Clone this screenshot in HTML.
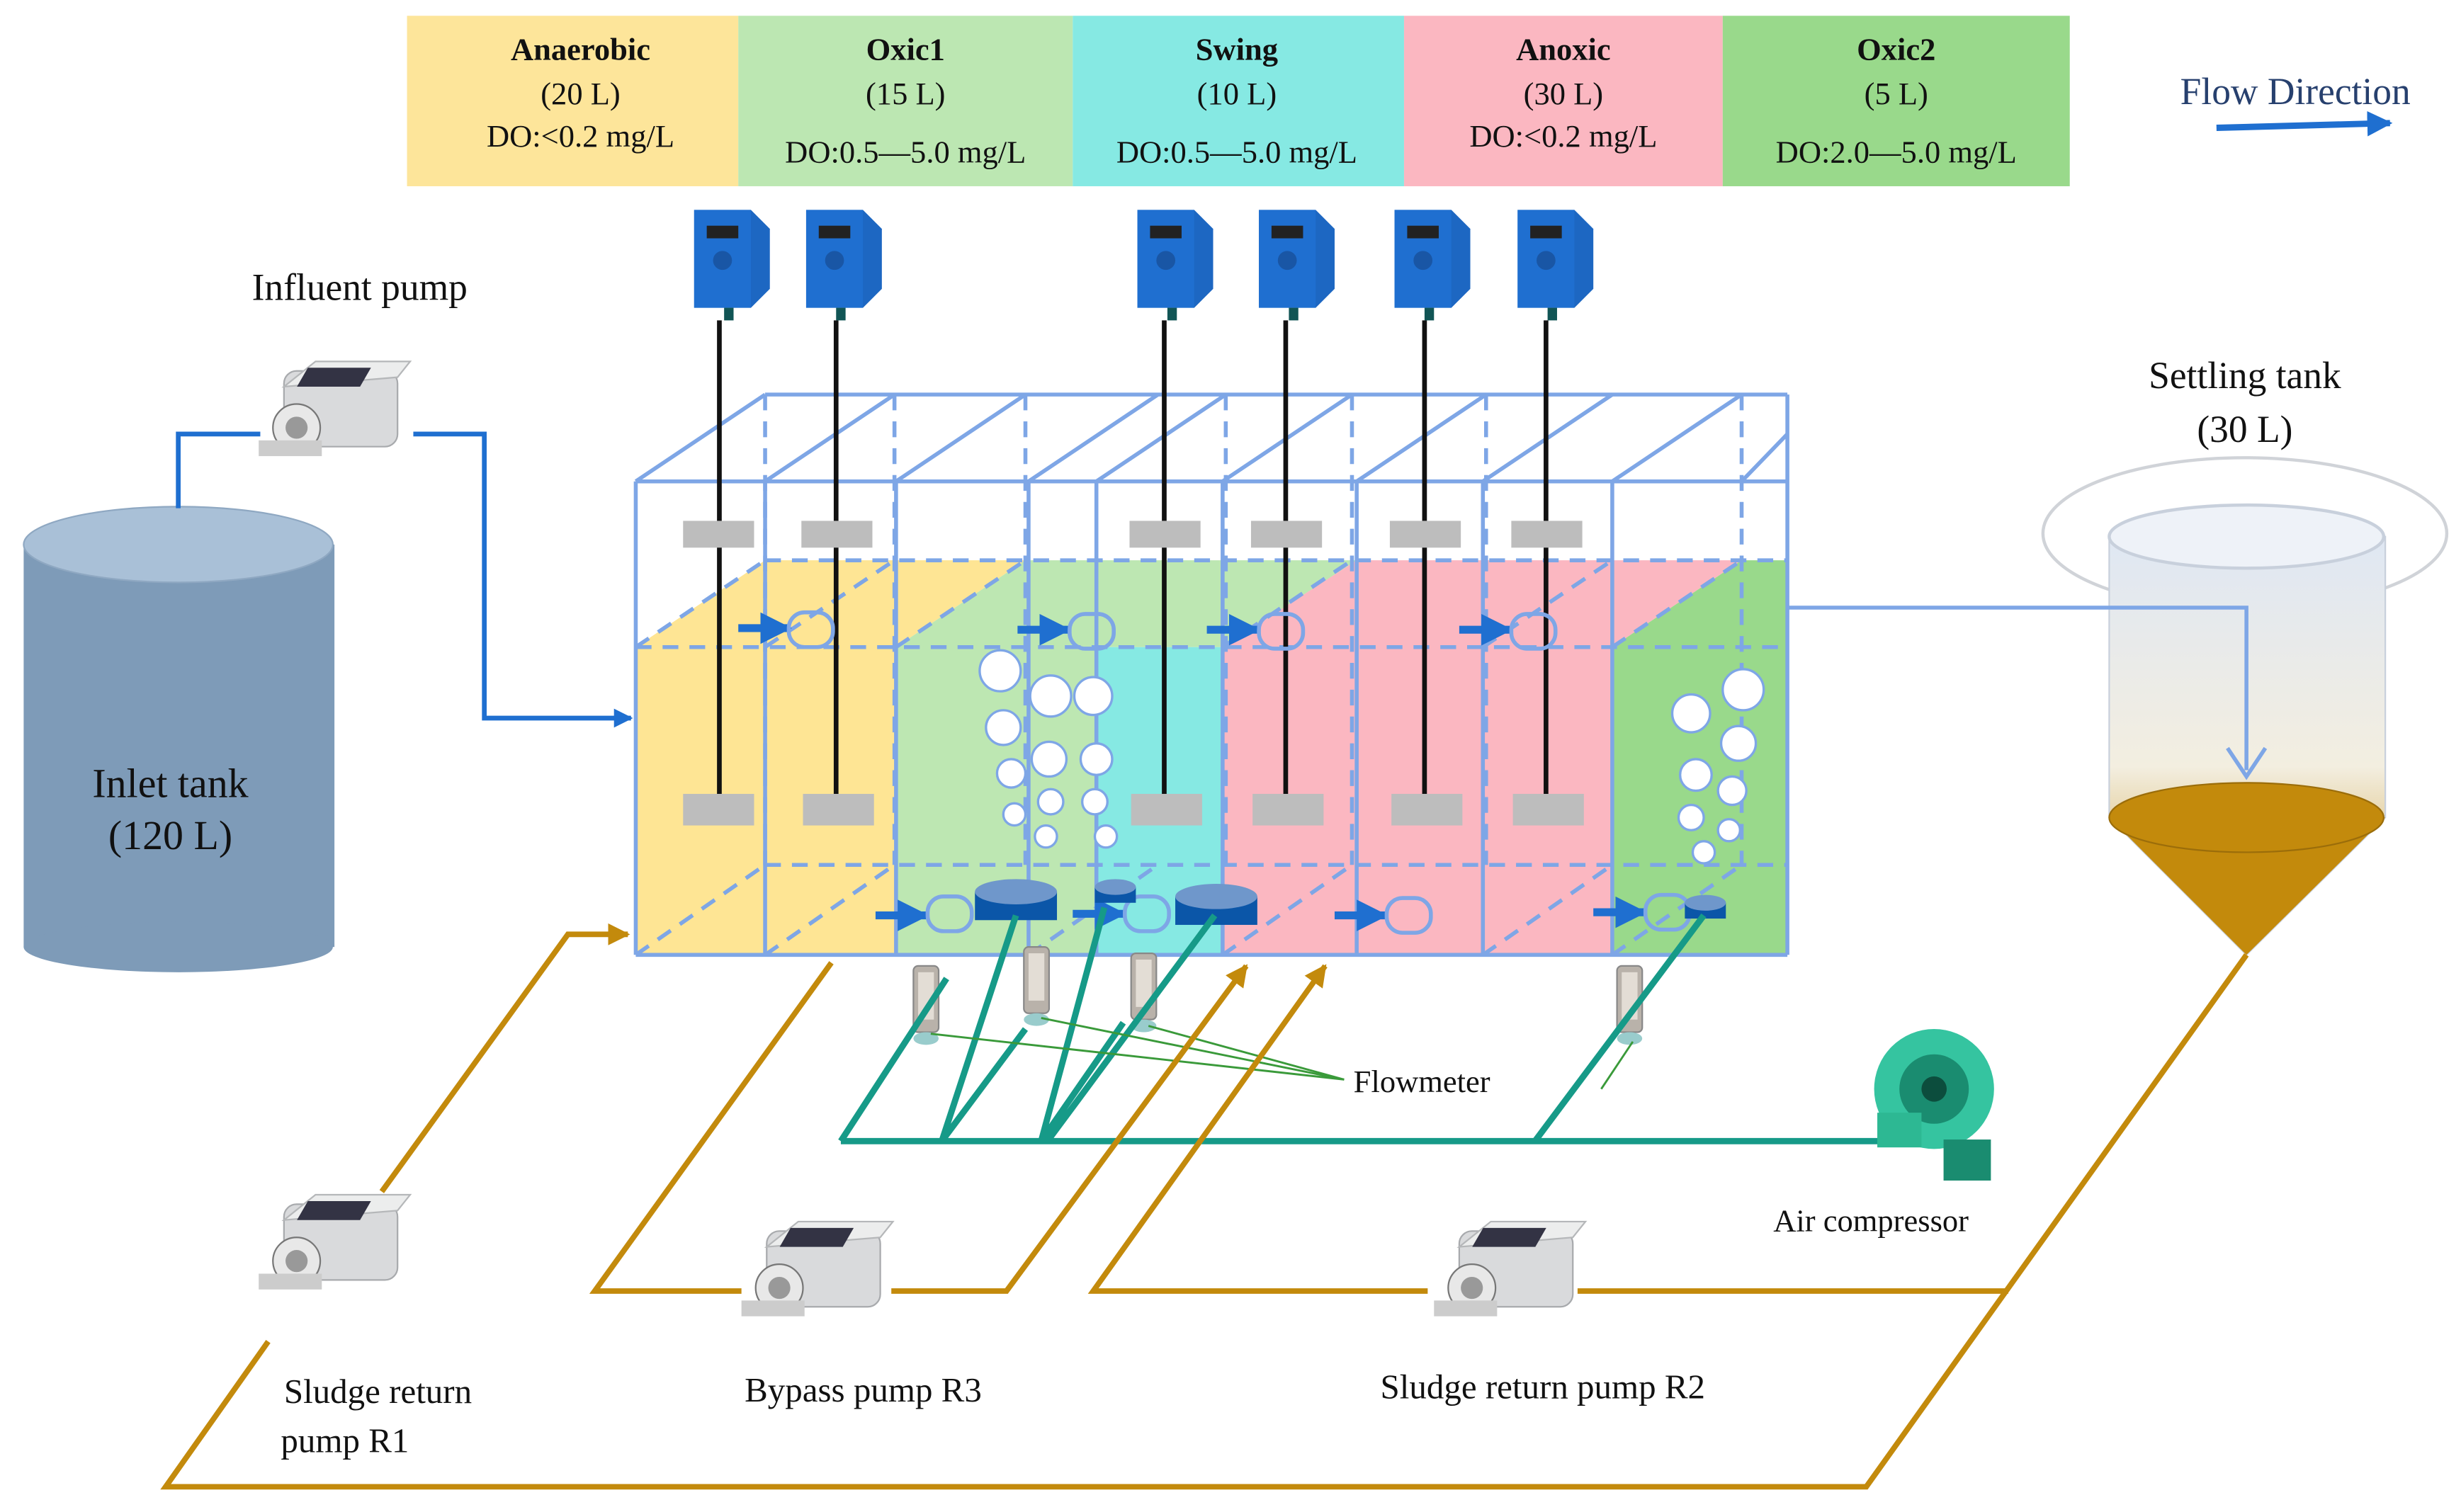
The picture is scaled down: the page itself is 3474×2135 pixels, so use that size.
<!DOCTYPE html>
<html><head><meta charset="utf-8"><style>
html,body{margin:0;padding:0;background:#fff}
svg{display:block}
text{font-family:"Liberation Serif",serif;fill:#111}
</style></head><body>
<svg width="3474" height="2135" viewBox="0 0 1560 958" preserveAspectRatio="none" xmlns="http://www.w3.org/2000/svg">
<defs>
<marker id="ab" viewBox="0 0 10 10" refX="9" refY="5" markerWidth="4" markerHeight="4" orient="auto"><path d="M0,0L10,5L0,10z" fill="#1f6fd0"/></marker>
<marker id="ao" viewBox="0 0 10 10" refX="9" refY="5" markerWidth="4" markerHeight="4" orient="auto"><path d="M0,0L10,5L0,10z" fill="#c38a0c"/></marker>
<g id="pump">
<rect x="20" y="0" width="72" height="48" rx="8" fill="#d9dadc" stroke="#a8aaad"/>
<path d="M20 10 L40 -6 L100 -6 L92 4z" fill="#eceded" stroke="#b5b7b9"/>
<rect x="34" y="-2" width="40" height="12" fill="#334" transform="skewX(-30)"/>
<circle cx="28" cy="36" r="15" fill="#e8e8e8" stroke="#777"/>
<circle cx="28" cy="36" r="7" fill="#999"/>
<rect x="4" y="44" width="40" height="10" fill="#ccc"/>
</g>
<g id="probe">
<path d="M-22 0 L14 0 L26 12 L26 50 L14 62 L-22 62z" fill="#1d67c2"/>
<rect x="-22" y="0" width="36" height="62" fill="#1f6fd0"/>
<rect x="-14" y="10" width="20" height="8" fill="#222"/>
<circle cx="-4" cy="32" r="6" fill="#1956a5"/>
<rect x="-3" y="62" width="6" height="8" fill="#155"/>
</g>
<g id="fm"><rect x="-8" y="0" width="16" height="42" rx="3" fill="#b9b2aa" stroke="#888"/><rect x="-5" y="4" width="10" height="30" fill="#e3ddd5"/><ellipse cx="0" cy="46" rx="8" ry="4" fill="#9cc"/></g>
</defs>

<!-- header -->
<rect x="258" y="10" width="210" height="108" fill="#fde59a"/>
<rect x="468" y="10" width="212" height="108" fill="#bce7b2"/>
<rect x="680" y="10" width="210" height="108" fill="#86e9e3"/>
<rect x="890" y="10" width="202" height="108" fill="#fbb7c1"/>
<rect x="1092" y="10" width="220" height="108" fill="#99d98b"/>
<g font-size="20" text-anchor="middle">
<text x="368" y="38" font-weight="bold">Anaerobic</text><text x="368" y="66">(20 L)</text><text x="368" y="93">DO:&lt;0.2 mg/L</text>
<text x="574" y="38" font-weight="bold">Oxic1</text><text x="574" y="66">(15 L)</text><text x="574" y="103">DO:0.5—5.0 mg/L</text>
<text x="784" y="38" font-weight="bold">Swing</text><text x="784" y="66">(10 L)</text><text x="784" y="103">DO:0.5—5.0 mg/L</text>
<text x="991" y="38" font-weight="bold">Anoxic</text><text x="991" y="66">(30 L)</text><text x="991" y="93">DO:&lt;0.2 mg/L</text>
<text x="1202" y="38" font-weight="bold">Oxic2</text><text x="1202" y="66">(5 L)</text><text x="1202" y="103">DO:2.0—5.0 mg/L</text>
</g>
<text x="1455" y="66" font-size="24" text-anchor="middle" fill="#1f3a6a" style="fill:#27406e">Flow Direction</text>
<line x1="1405" y1="81" x2="1515" y2="78" stroke="#1f6fd0" stroke-width="4" marker-end="url(#ab)"/>

<text x="228" y="190" font-size="24" text-anchor="middle">Influent pump</text>
<text x="1423" y="246" font-size="24" text-anchor="middle">Settling tank</text>
<text x="1423" y="280" font-size="24" text-anchor="middle">(30 L)</text>

<!-- inlet tank -->
<rect x="15" y="345" width="197" height="255" fill="#7e9bb8"/>
<ellipse cx="113" cy="600" rx="98" ry="16" fill="#7e9bb8"/>
<ellipse cx="113" cy="345" rx="98" ry="24" fill="#a9c0d7" stroke="#8fa8c2"/>
<text x="108" y="505" font-size="26" text-anchor="middle">Inlet tank</text>
<text x="108" y="538" font-size="26" text-anchor="middle">(120 L)</text>

<!-- influent pipe -->
<path d="M113 322 V275 H165 M262 275 H307 V455 H400" fill="none" stroke="#1f6fd0" stroke-width="3" marker-end="url(#ab)"/>
<use href="#pump" x="160" y="235"/>

<!-- reactor fills -->
<path d="M403 410 L485 355 L650 355 L568 410 L568 605 L403 605z" fill="#fee594"/>
<path d="M568 410 L650 355 L860 355 L775 410 L695 410 L695 605 L568 605z" fill="#bde7b2"/>
<path d="M695 410 L775 410 L860 355 L860 355 L775 410 L775 605 L695 605z" fill="#86e9e3"/>
<path d="M775 410 L860 355 L1104 355 L1022 410 L1022 605 L775 605z" fill="#fbb7c1"/>
<path d="M1022 410 L1104 355 L1133 355 L1133 550 L1133 605 L1022 605z" fill="#99d98b"/>
<path d="M775 410 L860 355 L860 355 L860 605 L775 605z" fill="#fbb7c1"/>
<!-- reactor lines -->
<g fill="none" stroke="#7ea6e6" stroke-width="2.5">
<path d="M403 305 H1133 M485 250 H1133 M403 605 H1133 M403 305 V605 M1133 250 V605"/>
<path d="M403 305 L485 250 M485 305 L567 250 M568 305 L650 250 M652 305 L734 250 M695 305 L777 250 M775 305 L857 250 M860 305 L942 250 M940 305 L1022 250 M1022 305 L1104 250 M1104 305 L1133 275"/>
<path d="M485 305 V605 M568 305 V605 M652 305 V605 M695 305 V605 M775 305 V605 M860 305 V605 M940 305 V605 M1022 305 V605"/>
<g stroke-dasharray="10 7">
<path d="M403 410 H1133 M485 355 H1133 M485 548 H1133"/>
<path d="M485 250 V548 M567 250 V548 M650 250 V548 M777 250 V548 M857 250 V548 M942 250 V548 M1104 250 V548"/>
<path d="M403 410 L485 355 M485 410 L567 355 M568 410 L650 355 M775 410 L857 355 M940 410 L1022 355 M1022 410 L1104 355"/>
<path d="M403 605 L485 548 M485 605 L567 548 M652 605 L734 548 M775 605 L857 548 M940 605 L1022 548 M1022 605 L1104 548"/>
</g></g>

<!-- probes -->
<g>
<use href="#probe" x="462" y="133"/><use href="#probe" x="533" y="133"/><use href="#probe" x="743" y="133"/><use href="#probe" x="820" y="133"/><use href="#probe" x="906" y="133"/><use href="#probe" x="984" y="133"/>
</g>
<g stroke="#111" stroke-width="3">
<line x1="456" y1="203" x2="456" y2="505"/><line x1="530" y1="203" x2="530" y2="505"/><line x1="738" y1="203" x2="738" y2="505"/><line x1="815" y1="203" x2="815" y2="505"/><line x1="903" y1="203" x2="903" y2="505"/><line x1="980" y1="203" x2="980" y2="505"/>
</g>
<g fill="#bdbdbd">
<rect x="433" y="330" width="45" height="17"/><rect x="508" y="330" width="45" height="17"/><rect x="716" y="330" width="45" height="17"/><rect x="793" y="330" width="45" height="17"/><rect x="881" y="330" width="45" height="17"/><rect x="958" y="330" width="45" height="17"/>
<rect x="433" y="503" width="45" height="20"/><rect x="509" y="503" width="45" height="20"/><rect x="717" y="503" width="45" height="20"/><rect x="794" y="503" width="45" height="20"/><rect x="882" y="503" width="45" height="20"/><rect x="959" y="503" width="45" height="20"/>
</g>

<!-- internal flow arrows and small pipes -->
<g stroke="#1f6fd0" stroke-width="5" marker-end="url(#ab)">
<line x1="468" y1="398" x2="500" y2="398"/><line x1="645" y1="399" x2="677" y2="399"/><line x1="765" y1="399" x2="797" y2="399"/><line x1="925" y1="399" x2="957" y2="399"/>
<line x1="555" y1="580" x2="587" y2="580"/><line x1="680" y1="579" x2="712" y2="579"/><line x1="846" y1="580" x2="878" y2="580"/><line x1="1010" y1="578" x2="1042" y2="578"/>
</g>
<g fill="none" stroke="#7ea6e6" stroke-width="2.5">
<rect x="500" y="388" width="28" height="22" rx="10"/><rect x="678" y="389" width="28" height="22" rx="10"/><rect x="798" y="389" width="28" height="22" rx="10"/><rect x="958" y="389" width="28" height="22" rx="10"/>
<rect x="588" y="568" width="28" height="22" rx="10"/><rect x="713" y="568" width="28" height="22" rx="10"/><rect x="879" y="569" width="28" height="22" rx="10"/><rect x="1043" y="567" width="28" height="22" rx="10"/>
</g>
<!-- diffusers -->
<g>
<rect x="618" y="565" width="52" height="18" fill="#0b56a8"/><ellipse cx="644" cy="565" rx="26" ry="8" fill="#6f97cb"/>
<rect x="745" y="568" width="52" height="18" fill="#0b56a8"/><ellipse cx="771" cy="568" rx="26" ry="8" fill="#6f97cb"/>
<rect x="1068" y="572" width="26" height="10" fill="#0b56a8"/><ellipse cx="1081" cy="572" rx="13" ry="5" fill="#6f97cb"/>
<rect x="694" y="562" width="26" height="10" fill="#0b56a8"/><ellipse cx="707" cy="562" rx="13" ry="5" fill="#6f97cb"/>
</g>
<!-- bubbles -->
<g fill="#fff" stroke="#7ea6e6" stroke-width="1.5">
<circle cx="634" cy="425" r="13"/><circle cx="666" cy="441" r="13"/><circle cx="693" cy="441" r="12"/><circle cx="636" cy="461" r="11"/><circle cx="665" cy="481" r="11"/><circle cx="695" cy="481" r="10"/><circle cx="641" cy="490" r="9"/><circle cx="666" cy="508" r="8"/><circle cx="694" cy="508" r="8"/><circle cx="643" cy="516" r="7"/><circle cx="663" cy="530" r="7"/><circle cx="701" cy="530" r="7"/>
<circle cx="1105" cy="437" r="13"/><circle cx="1072" cy="452" r="12"/><circle cx="1102" cy="471" r="11"/><circle cx="1075" cy="491" r="10"/><circle cx="1098" cy="501" r="9"/><circle cx="1072" cy="518" r="8"/><circle cx="1096" cy="526" r="7"/><circle cx="1080" cy="540" r="7"/>
</g>

<!-- settling tank -->
<ellipse cx="1423" cy="338" rx="128" ry="48" fill="none" stroke="#d0d3d8" stroke-width="2"/>
<defs><linearGradient id="st" x1="0" y1="0" x2="0" y2="1"><stop offset="0" stop-color="#dfe7f3"/><stop offset="0.55" stop-color="#f3eee0"/><stop offset="1" stop-color="#c89520"/></linearGradient></defs>
<path d="M1337 340 V518 L1424 605 L1512 518 V340z" fill="url(#st)" stroke="#c8d0dc"/>
<path d="M1337 518 L1424 605 L1512 518z" fill="#c38a0c"/>
<ellipse cx="1424" cy="518" rx="87" ry="22" fill="#c38a0c" stroke="#9b6d0a"/>
<ellipse cx="1424" cy="340" rx="87" ry="20" fill="#eef2f8" stroke="#c8d0dc" stroke-width="2"/>
<path d="M1133 385 H1424 V488" fill="none" stroke="#7ea6e6" stroke-width="2.5"/>
<path d="M1412 474 L1424 492 L1436 474" fill="none" stroke="#7ea6e6" stroke-width="2.5"/>

<!-- flowmeters -->
<use href="#fm" x="587" y="612"/><use href="#fm" x="657" y="600"/><use href="#fm" x="725" y="604"/><use href="#fm" x="1033" y="612"/>

<!-- air lines -->
<g fill="none" stroke="#169a88" stroke-width="4">
<path d="M533 723 H1200"/>
<path d="M533 723 L600 620 M597 723 L650 652 M660 723 L712 648 M664 723 L770 580 M597 723 L644 580 M660 723 L700 575 M973 723 L1080 580"/>
</g>
<g stroke="#3a9a3a" stroke-width="1.3"><line x1="590" y1="655" x2="852" y2="684"/><line x1="660" y1="645" x2="852" y2="684"/><line x1="728" y1="650" x2="852" y2="684"/><line x1="1015" y1="690" x2="1035" y2="660"/></g>
<text x="858" y="692" font-size="20">Flowmeter</text>
<!-- compressor -->
<g>
<circle cx="1226" cy="690" r="38" fill="#35c4a0"/><circle cx="1226" cy="690" r="22" fill="#1a8c70"/><circle cx="1226" cy="690" r="8" fill="#0c4d3d"/>
<rect x="1190" y="705" width="28" height="22" fill="#2db893"/><rect x="1232" y="722" width="30" height="26" fill="#1a8c70"/>
</g>
<text x="1186" y="780" font-size="20" text-anchor="middle">Air compressor</text>

<!-- sludge lines -->
<g fill="none" stroke="#c38a0c" stroke-width="3.5">
<path d="M1424 605 L1183 942 H105 L170 850"/>
<path d="M242 755 L360 592 H398" marker-end="url(#ao)"/>
<path d="M527 610 L377 818 H470"/>
<path d="M565 818 H638 L790 612" marker-end="url(#ao)"/>
<path d="M1273 818 H1000 M905 818 H693 L840 612" marker-end="url(#ao)"/>
</g>
<use href="#pump" x="160" y="763"/>
<use href="#pump" x="466" y="780"/>
<use href="#pump" x="905" y="780"/>
<g font-size="22">
<text x="180" y="889">Sludge return</text><text x="178" y="920">pump R1</text>
<text x="472" y="888">Bypass pump R3</text>
<text x="875" y="886">Sludge return pump R2</text>
</g>
</svg>
</body></html>
